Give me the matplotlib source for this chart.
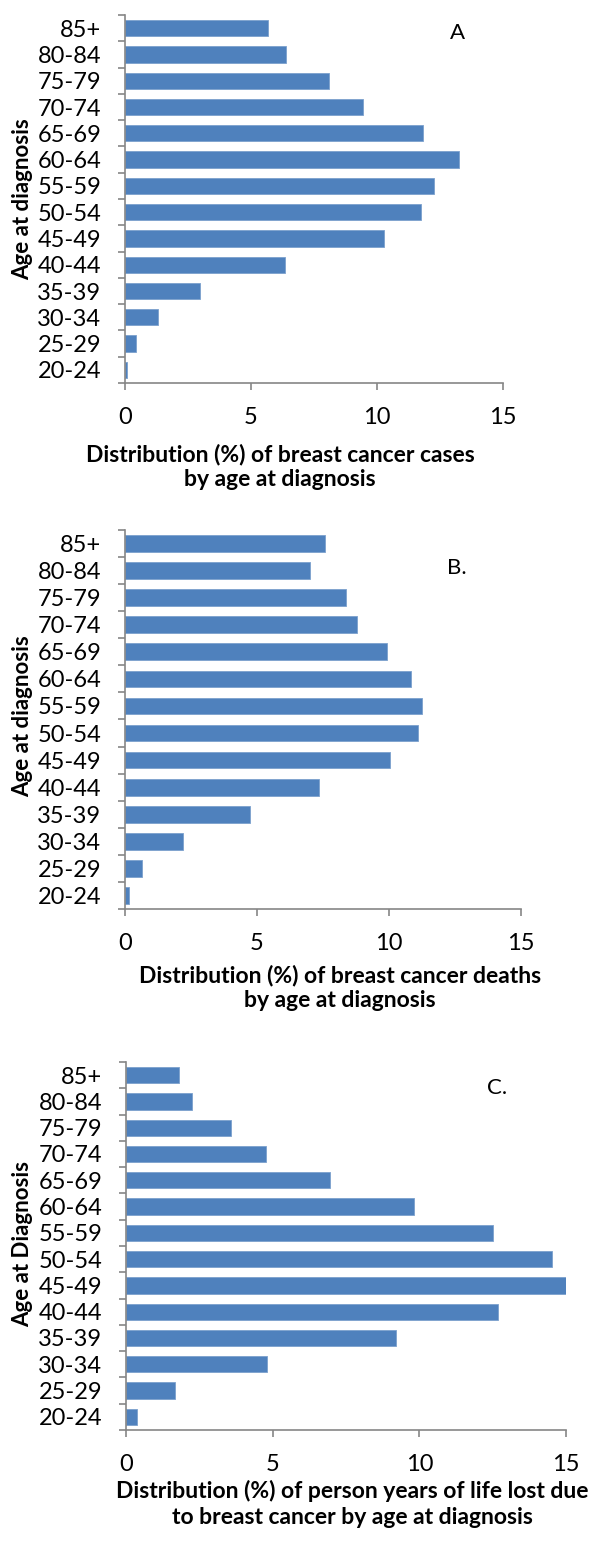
import matplotlib
matplotlib.use("Agg")
import matplotlib.pyplot as plt

ages = ["20-24", "25-29", "30-34", "35-39", "40-44", "45-49", "50-54",
        "55-59", "60-64", "65-69", "70-74", "75-79", "80-84", "85+"]

# % of cases, deaths and person-years of life lost, youngest group first
cases = [0.07, 0.44, 1.29, 2.99, 6.35, 10.27, 11.73, 12.27, 13.26, 11.83, 9.44, 8.08, 6.40, 5.69]
deaths = [0.14, 0.66, 2.20, 4.72, 7.35, 10.02, 11.11, 11.25, 10.85, 9.92, 8.80, 8.38, 7.02, 7.58]
pyll = [0.37, 1.66, 4.80, 9.21, 12.69, 15.07, 14.52, 12.51, 9.82, 6.95, 4.77, 3.57, 2.26, 1.79]

panel_tags = ["A", "B.", "C."]
ylabels = ["Age at diagnosis", "Age at diagnosis", "Age at Diagnosis"]
xlabels = ["Distribution (%) of breast cancer cases\nby age at diagnosis",
           "Distribution (%) of breast cancer deaths\nby age at diagnosis",
           "Distribution (%) of person years of life lost due\nto breast cancer by age at diagnosis"]
xticks = [0, 5, 10, 15]

W, H = 592, 1543
plt.rcParams["font.family"] = ["Lato", "DejaVu Sans"]

fig = plt.figure(figsize=(W / 100, H / 100), dpi=100)

# plot boxes in pixels: left, right, top, bottom
boxes = [(125, 503, 15, 383), (125, 521, 530, 909), (126, 566, 1062, 1430)]
tag_pos = [(458, 33), (457, 568), (497, 1088)]
xlab_pos = [(280, 467), (340, 988), (352, 1504)]
ylab_pos = [(23, 199), (23, 716), (23, 1244)]

bar_col = "#4F81BD"
axis_col = "#868686"

for i, vals in enumerate([cases, deaths, pyll]):
    l, r, t, b = boxes[i]
    ax = fig.add_axes([l / W, 1 - b / H, (r - l) / W, (b - t) / H])
    ypos = list(range(len(ages)))
    ax.barh(ypos, vals, height=0.62, color=bar_col, edgecolor="#7BA0CD", linewidth=0.6)
    ax.set_xlim(0, 15)
    ax.set_ylim(-0.5, len(ages) - 0.5)
    ax.set_xticks(xticks)
    ax.set_xticklabels([str(v) for v in xticks])
    ax.set_yticks(ypos)
    ax.set_yticklabels(ages)
    # Excel-style ticks between the age groups
    ax.set_yticks([k - 0.5 for k in range(len(ages) + 1)], minor=True)
    ax.tick_params(axis="y", which="major", length=0, pad=17, labelsize=17, colors="black")
    ax.tick_params(axis="y", which="minor", length=5, width=1.2, color=axis_col)
    ax.tick_params(axis="x", length=5, width=1.2, color=axis_col, pad=12, labelsize=17)
    for s in ["top", "right"]:
        ax.spines[s].set_visible(False)
    for s in ["left", "bottom"]:
        ax.spines[s].set_color(axis_col)
        ax.spines[s].set_linewidth(1.2)

    fig.text(tag_pos[i][0] / W, 1 - tag_pos[i][1] / H, panel_tags[i],
             fontsize=16, ha="center", va="center")
    fig.text(xlab_pos[i][0] / W, 1 - xlab_pos[i][1] / H, xlabels[i],
             fontsize=16.5, fontweight="bold", ha="center", va="center", linespacing=1.25)
    fig.text(ylab_pos[i][0] / W, 1 - ylab_pos[i][1] / H, ylabels[i],
             fontsize=16, fontweight="bold", ha="center", va="center", rotation=90)

fig.savefig("out.png", dpi=100)
